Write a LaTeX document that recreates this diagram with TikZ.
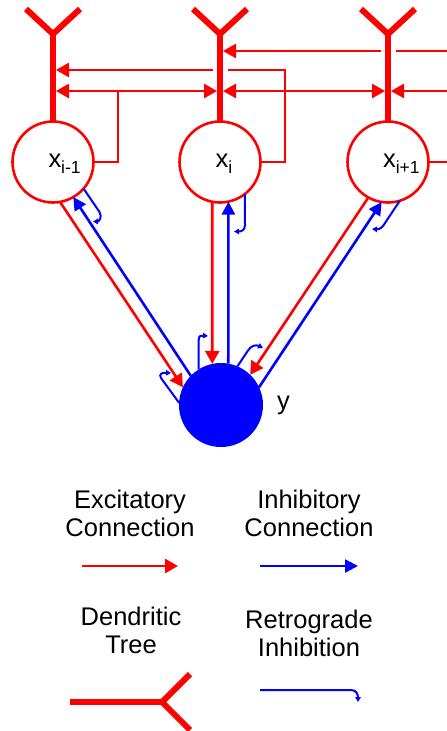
\documentclass[tikz,border=0pt]{standalone}
\usepackage{fontspec}
\setmainfont{Liberation Sans}
\usetikzlibrary{arrows.meta}
\begin{document}
\begin{tikzpicture}[x=1pt,y=-1pt,
 every node/.style={inner sep=0pt, outer sep=0pt},
 txt/.style={font=\fontsize{25.5}{28.5}\selectfont, align=center},
 lbl/.style={font=\fontsize{25.5}{25.5}\selectfont},
 neuron/.style={circle, draw=red, line width=2.6pt, fill=white, minimum size=81pt},
 outn/.style={circle, fill=blue, minimum size=84pt},
 exc/.style={draw=red, line width=2.6pt, -{Triangle[length=13pt,width=14pt]}},
 excboth/.style={draw=red, line width=2.6pt, {Triangle[length=13pt,width=14pt]}-{Triangle[length=13pt,width=14pt]}},
 redline/.style={draw=red, line width=2.6pt},
 inh/.style={draw=blue, line width=2.6pt, -{Triangle[length=13pt,width=13pt]}},
 retro/.style={draw=blue, line width=2pt, -{Triangle[length=5pt,width=5.5pt]}},
 dend/.style={draw=red, line width=6pt},
 gapw/.style={draw=white, line width=15pt},
]
\useasboundingbox (0,0) rectangle (447,731);

% neurons
\node[neuron] (x1) at (53,162) {};
\node[neuron] (x2) at (220,162) {};
\node[neuron] (x3) at (388,162) {};
\node[outn] (y) at (221,405) {};

\node[lbl, anchor=base west] (l1) at (48.5,167) {x\raisebox{-6pt}{\fontsize{17.5}{17.5}\selectfont i-1}};
\node[lbl, anchor=base west] (l2) at (215.5,167) {x\raisebox{-6pt}{\fontsize{17.5}{17.5}\selectfont i}};
\node[lbl, anchor=base west] (l3) at (383,167) {x\raisebox{-6pt}{\fontsize{17.5}{17.5}\selectfont i+1}};
\node[lbl, anchor=base west] (ly) at (277,409) {y};

% coordinates for lateral lines
\coordinate (r51) at (447,51);
\coordinate (t51) at (223,51);
\coordinate (c2) at (285,70);
\coordinate (t70) at (56,70);
\coordinate (c1) at (118,91);
\coordinate (t91a) at (56,91);
\coordinate (t91b) at (217,91);
\coordinate (t91c) at (223,91);
\coordinate (t91d) at (385,91);
\coordinate (r91) at (447,91);
\coordinate (t91e) at (391,91);
\coordinate (r162) at (447,162);

\draw[exc] (r51) -- (t51);
\draw[exc] (x2.east) -| (c2) -- (t70);
\draw[redline] (x1.east) -| (c1);
\draw[excboth] (t91a) -- (t91b);
\draw[excboth] (t91c) -- (t91d);
\draw[exc] (r91) -- (t91e);
\draw[redline] (x3.east) -- (r162);

% gaps where lines pass behind stems
\draw[gapw] (388,46) -- (388,56);
\draw[gapw] (220,65) -- (220,75);

% dendritic trees
\foreach \n/\cx in {1/53,2/220,3/388}{
  \coordinate (f\n) at (\cx,34);
  \coordinate (al\n) at (\cx-27,9);
  \coordinate (ar\n) at (\cx+27,9);
  \draw[dend] (al\n) -- (f\n) -- (ar\n);
  \draw[dend] (f\n) -- (x\n.north);
}

% connections to/from y
\draw[exc] (x1.-80) -- (y.155);
\draw[inh] (y.136) -- (x1.-60);
\draw[exc] (x2.-101.25) -- (y.102.4);
\draw[inh] (y.80.4) -- (x2.-78.75);
\draw[exc] (x3.-119) -- (y.46);
\draw[inh] (y.25) -- (x3.-99);

% retrograde hooks
\coordinate (hA) at (93,221.5);
\coordinate (hB) at (234,231.5);
\coordinate (hC) at (372,229);
\coordinate (hD) at (171,373);
\coordinate (hE) at (208,336);
\coordinate (hF) at (263,348);
\draw[retro] (x1.-41) -- (99.5,212) .. controls (102.5,217) and (99,221.5) .. (hA);
\draw[retro] (x2.-52) -- (245,225) .. controls (245,230.5) and (241,231.5) .. (hB);
\draw[retro] (x3.-73) -- (386,221.5) .. controls (383,227) and (380,229.5) .. (hC);
\draw[retro] (y.177) -- (161,378) .. controls (159,374.5) and (161,372.5) .. (hD);
\draw[retro] (y.122) -- (198.7,340) .. controls (198.7,335.5) and (201,335.5) .. (hE);
\draw[retro] (y.67) -- (248,350.5) .. controls (251,345.5) and (256,344.5) .. (hF);

% legend
\node[txt, anchor=north] (tx1) at (130,490) {Excitatory\\Connection};
\node[txt, anchor=north] (tx2) at (309,490) {Inhibitory\\Connection};
\node[txt, anchor=north] (tx3) at (131,607) {Dendritic\\Tree};
\node[txt, anchor=north] (tx4) at (309,610) {Retrograde\\Inhibition};

\coordinate (le1) at (82,566); \coordinate (le2) at (178,566);
\coordinate (li1) at (260,566); \coordinate (li2) at (358,566);
\draw[exc] (le1) -- (le2);
\draw[inh] (li1) -- (li2);

\coordinate (ld1) at (70,702); \coordinate (ldf) at (162,702);
\coordinate (ldu) at (190,674); \coordinate (ldd) at (190,730);
\draw[dend] (ld1) -- (ldf);
\draw[dend] (ldu) -- (ldf) -- (ldd);

\coordinate (lr1) at (260,690); \coordinate (lr2) at (358,702);
\draw[retro] (lr1) -- (351,690) .. controls (356,690) and (358,694) .. (lr2);
\end{tikzpicture}
\end{document}
